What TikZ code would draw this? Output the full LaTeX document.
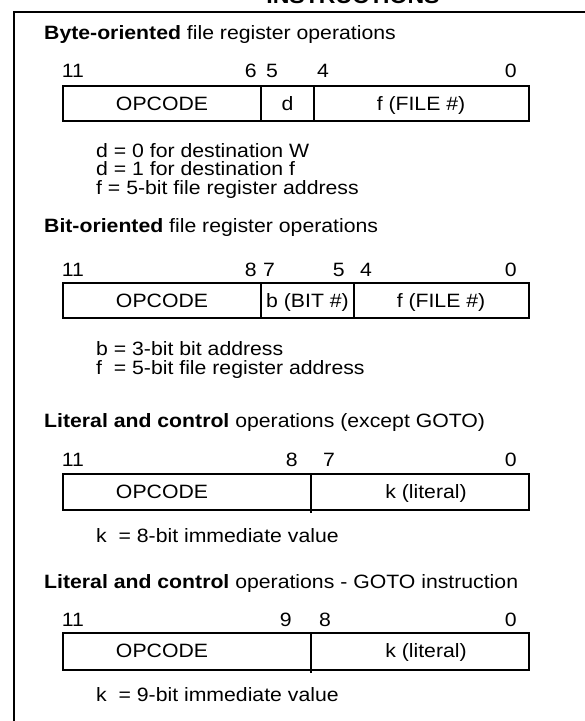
\documentclass[tikz,border=0pt]{standalone}
\usepackage{fontspec}
\setmainfont{Liberation Sans}[FakeStretch=1.1]
\begin{document}
\begin{tikzpicture}[x=1pt,y=-1pt,
  txt/.style={font=\fontsize{19.3}{20}\selectfont, inner sep=0pt, anchor=base west},
  num/.style={font=\fontsize{19.3}{20}\selectfont, inner sep=0pt},
  cell/.style={font=\fontsize{19.3}{20}\selectfont, inner sep=0pt, anchor=base},
  title/.style={font=\fontsize{21}{22}\selectfont\bfseries, inner sep=0pt, anchor=base},
  reg/.style={line width=2.2pt},
  frame/.style={line width=2.2pt}]
\useasboundingbox (0,0) rectangle (585,721);
\node[title] (ttl) at (353,3) {INSTRUCTIONS};
\draw[frame] (590,12) -- (14,12) -- (14,725);
% byte-oriented
\node[txt] (hd1) at (44,39.5) {\textbf{Byte-oriented} file register operations};
\node[num, anchor=base west] (b11a) at (61.6,77.5) {11};
\node[num, anchor=base east] (b6a) at (257,77.5) {6};
\node[num, anchor=base west] (b5a) at (266,77.5) {5};
\node[num, anchor=base west] (b4a) at (317,77.5) {4};
\node[num, anchor=base east] (b0a) at (517,77.5) {0};
\draw[reg] (62.7,86) rectangle (529,121);
\draw[reg] (261,86) -- (261,121) (314,86) -- (314,121);
\node[cell] (op1) at (162,110) {OPCODE};
\node[cell] (d1) at (287.5,110) {d};
\node[cell] (f1) at (421,110) {f (FILE \#)};
\node[txt] (n1a) at (96,157) {d = 0 for destination W};
\node[txt] (n1b) at (96,175.5) {d = 1 for destination f};
\node[txt] (n1c) at (96,194) {f = 5-bit file register address};
% bit-oriented
\node[txt] (hd2) at (44,232) {\textbf{Bit-oriented} file register operations};
\node[num, anchor=base west] (b11b) at (61.6,276) {11};
\node[num, anchor=base east] (b8b) at (257,276) {8};
\node[num, anchor=base west] (b7b) at (263,276) {7};
\node[num, anchor=base east] (b5b) at (345,276) {5};
\node[num, anchor=base west] (b4b) at (360,276) {4};
\node[num, anchor=base east] (b0b) at (517,276) {0};
\draw[reg] (62.7,283) rectangle (529,318);
\draw[reg] (261,283) -- (261,318) (354,283) -- (354,318);
\node[cell] (op2) at (162,307) {OPCODE};
\node[cell] (b2) at (307.5,307) {b (BIT \#)};
\node[cell] (f2) at (441,307) {f (FILE \#)};
\node[txt] (n2a) at (96,355) {b = 3-bit bit address};
\node[txt] (n2b) at (96,374) {f\ \ = 5-bit file register address};
% literal and control
\node[txt] (hd3) at (44,427) {\textbf{Literal and control} operations (except GOTO)};
\node[num, anchor=base west] (b11c) at (61.6,466.5) {11};
\node[num, anchor=base east] (b8c) at (298,466.5) {8};
\node[num, anchor=base west] (b7c) at (323,466.5) {7};
\node[num, anchor=base east] (b0c) at (517,466.5) {0};
\draw[reg] (62.7,474) rectangle (529,510);
\draw[reg] (311,474) -- (311,513);
\node[cell] (op3) at (162,498.5) {OPCODE};
\node[cell] (k3) at (426,498.5) {k (literal)};
\node[txt] (n3a) at (96,542) {k\ \ = 8-bit immediate value};
% goto
\node[txt] (hd4) at (44,588.5) {\textbf{Literal and control} operations - GOTO instruction};
\node[num, anchor=base west] (b11d) at (61.6,626.5) {11};
\node[num, anchor=base east] (b9d) at (292,626.5) {9};
\node[num, anchor=base west] (b8d) at (319,626.5) {8};
\node[num, anchor=base east] (b0d) at (517,626.5) {0};
\draw[reg] (62.7,633) rectangle (529,670);
\draw[reg] (311,633) -- (311,673);
\node[cell] (op4) at (162,657.5) {OPCODE};
\node[cell] (k4) at (426,657.5) {k (literal)};
\node[txt] (n4a) at (96,701.5) {k\ \ = 9-bit immediate value};
\end{tikzpicture}
\end{document}
